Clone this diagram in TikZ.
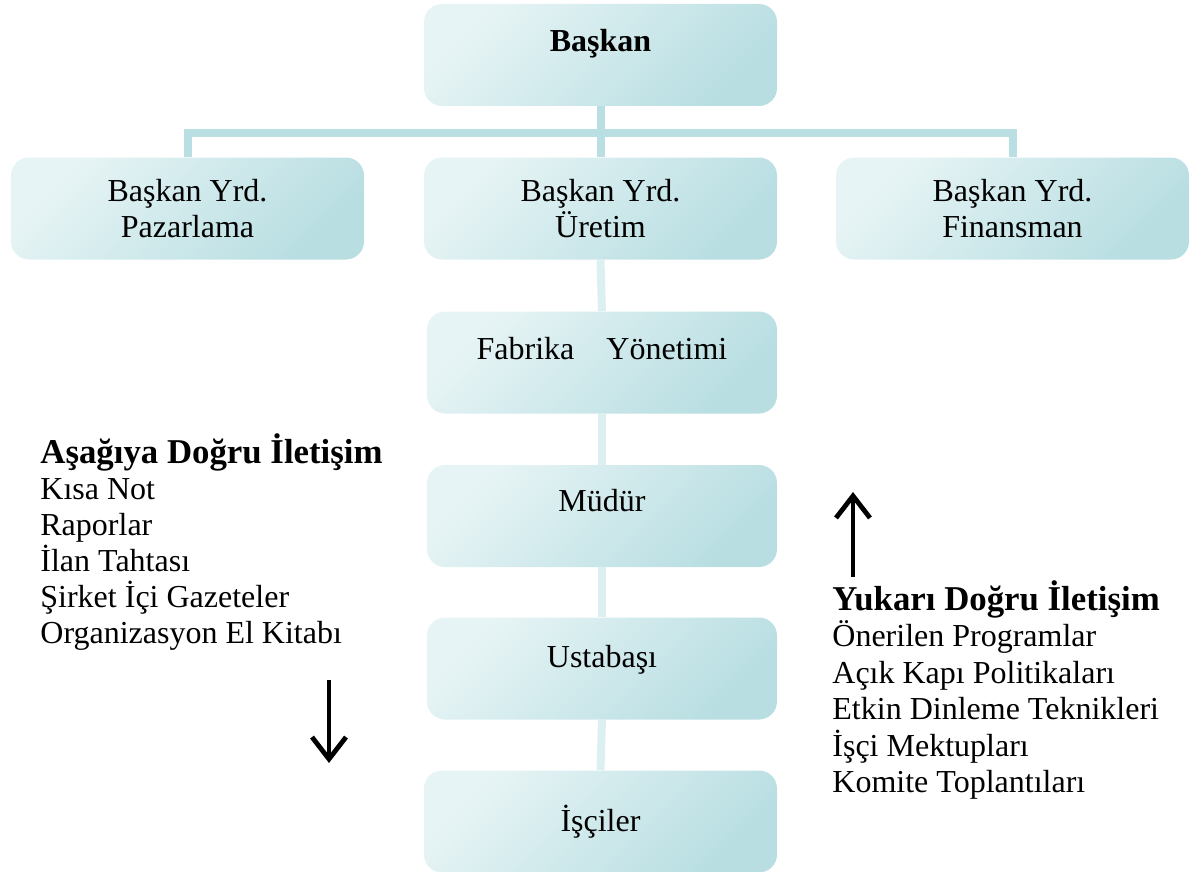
\documentclass[tikz,border=0pt]{standalone}
\usepackage{fontspec}
\setmainfont{Liberation Serif}
\usepackage{xcolor}
\definecolor{boxlight}{RGB}{231,244,245}
\definecolor{boxdark}{RGB}{184,222,226}
\definecolor{linkdark}{RGB}{186,223,227}
\definecolor{linkpale}{RGB}{221,240,241}
\usetikzlibrary{arrows.meta}

\begin{document}
\begin{tikzpicture}[x=0.5pt, y=-0.5pt,
    orgbox/.style={rectangle, rounded corners=9pt,
        left color=boxlight, right color=boxdark, shading angle=45,
        minimum width=176.5pt, minimum height=51pt, inner sep=0pt,
        align=center, font=\fontsize{16}{18}\selectfont},
    toplink/.style={linkdark, line width=4pt},
    lowlink/.style={linkpale, line width=4pt},
    listtext/.style={anchor=base west, inner sep=0pt, font=\fontsize{16}{18}\selectfont},
    listhead/.style={listtext, font=\fontsize{17.4}{20}\selectfont\bfseries},
    flow/.style={-{Straight Barb[length=11pt, width=17pt]}, line width=2.4pt}]
  \useasboundingbox (0,0) rectangle (1199,872);
  % President and vice presidents
  \node[orgbox, font=\fontsize{16}{18}\selectfont\bfseries,
        text height=12pt, text depth=15pt] (baskan) at (600.5,55) {Başkan};
  \node[orgbox] (pazar)  at (187.5,208.5)  {Başkan Yrd.\\Pazarlama};
  \node[orgbox] (uretim) at (600.5,208.5)  {Başkan Yrd.\\Üretim};
  \node[orgbox] (finans) at (1012.5,208.5) {Başkan Yrd.\\Finansman};
  \coordinate (bar) at (600.5,133);
  \draw[toplink] (baskan.south) -- (uretim.north);
  \draw[toplink] (pazar.north) |- (bar) -| (finans.north);
  % Production chain
  \node[orgbox, minimum width=175pt, text height=12pt, text depth=15.5pt]
        (fabrika) at (602,362.5) {Fabrika\hspace{12pt} Yönetimi};
  \node[orgbox, minimum width=175pt, text height=12pt, text depth=17pt]
        (mudur) at (602,516) {Müdür};
  \node[orgbox, minimum width=175pt, text height=12pt, text depth=13pt]
        (usta) at (602,668.5) {Ustabaşı};
  \node[orgbox] (isci) at (600.5,821.5) {İşçiler};
  \draw[lowlink] (uretim.south) -- (fabrika.north);
  \draw[lowlink] (fabrika.south) -- (mudur.north);
  \draw[lowlink] (mudur.south) -- (usta.north);
  \draw[lowlink] (usta.south) -- (isci.north);
  % Downward communication
  \node[listhead] (down0) at (40,463) {Aşağıya Doğru İletişim};
  \foreach \txt [count=\i] in {Kısa Not, Raporlar, İlan Tahtası,
      Şirket İçi Gazeteler, Organizasyon El Kitabı}
    \node[listtext] (down\i) at (40,{463+36*\i}) {\txt};
  \coordinate (downtail) at (329,680);
  \coordinate (downtip) at (329,763);
  \draw[flow] (downtail) -- (downtip);
  % Upward communication
  \node[listhead] (up0) at (832,610) {Yukarı Doğru İletişim};
  \foreach \txt [count=\i] in {Önerilen Programlar, Açık Kapı Politikaları,
      Etkin Dinleme Teknikleri, İşçi Mektupları, Komite Toplantıları}
    \node[listtext] (up\i) at (832,{610+36.5*\i}) {\txt};
  \coordinate (uptail) at (853,577);
  \coordinate (uptip) at (853,492);
  \draw[flow] (uptail) -- (uptip);
\end{tikzpicture}
\end{document}
